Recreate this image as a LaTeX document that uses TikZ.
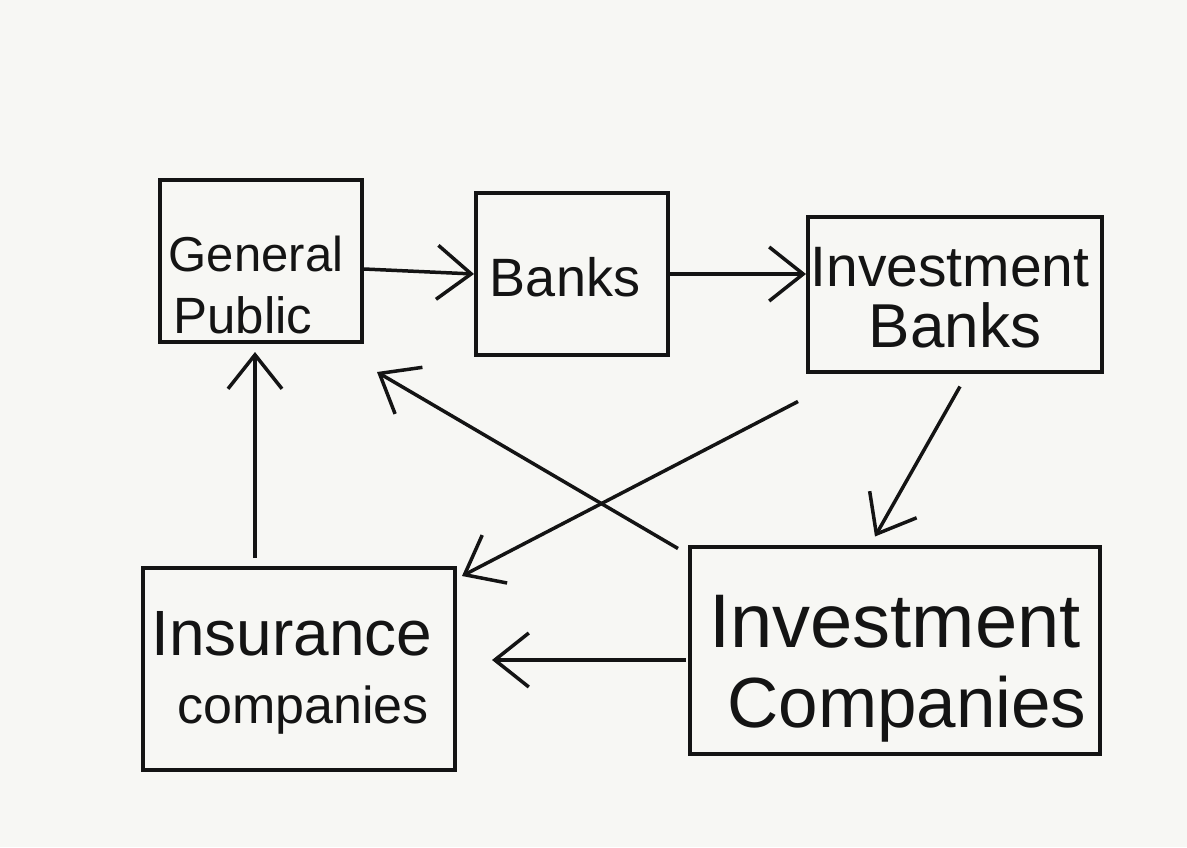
\documentclass[tikz,border=0pt]{standalone}
\usepackage{fontspec}
\setmainfont{Liberation Sans}
\usetikzlibrary{arrows.meta,calc}
\definecolor{paper}{HTML}{F7F7F4}
\definecolor{ink}{HTML}{141414}
\newcommand{\fs}[1]{\fontsize{#1}{#1}\selectfont}
\begin{document}
\begin{tikzpicture}[x=1pt,y=-1pt,
  box/.style={draw=ink,line width=4pt,inner sep=0pt},
  lbl/.style={text=ink,inner sep=0pt,anchor=base},
  flow/.style={draw=ink,line width=3.5pt,-{Straight Barb[length=34pt,width=54pt]}},
]
% paper
\fill[paper] (0,0) rectangle (1187,847);

% institutions (frames)
\node[box,minimum width=202pt,minimum height=162pt] (gp) at (261,261) {};
\node[box,minimum width=192pt,minimum height=162pt] (banks) at (572,274) {};
\node[box,minimum width=294pt,minimum height=155pt] (ib) at (955,294) {};
\node[box,minimum width=312pt,minimum height=202pt] (ins) at (299,669) {};
\node[box,minimum width=410pt,minimum height=207pt] (invc) at (895,650) {};

% institutions (names, one node per written line)
\node[lbl,font=\fs{49}] (gp1) at (256,271) {General};
\node[lbl,font=\fs{51}] (gp2) at (243,333) {Public};
\node[lbl,font=\fs{54}] (banks1) at (565,296) {Banks};
\node[lbl,font=\fs{57}] (ib1) at (950,286) {Investment};
\node[lbl,font=\fs{62}] (ib2) at (955,347) {Banks};
\node[lbl,font=\fs{64}] (ins1) at (292,655) {Insurance};
\node[lbl,font=\fs{52}] (ins2) at (303,723) {companies};
\node[lbl,font=\fs{76}] (invc1) at (895,647) {Investment};
\node[lbl,font=\fs{71}] (invc2) at (907,727) {Companies};

% flows of funds
\draw[flow] ($(gp.east)+(0,8)$) -- (banks.west);
\draw[flow] (banks.east) -- (banks.east -| ib.west);
\draw[flow] ($(ib.south west)+(-8,28)$) -- ($(ins.north east)+(5,10)$);
\draw[flow] ($(ib.south)+(5,13)$) -- ($(invc.north)+(-20,-8)$);
\draw[flow] ($(invc.north west)+(-10,4)$) -- ($(gp.south east)+(13,28)$);
\draw[flow] ($(invc.west)+(-2,10)$) -- ($(ins.east)+(35,-9)$);
\draw[flow] ($(ins.north)+(-44,-8)$) -- ($(gp.south)+(-6,8)$);
\end{tikzpicture}
\end{document}
